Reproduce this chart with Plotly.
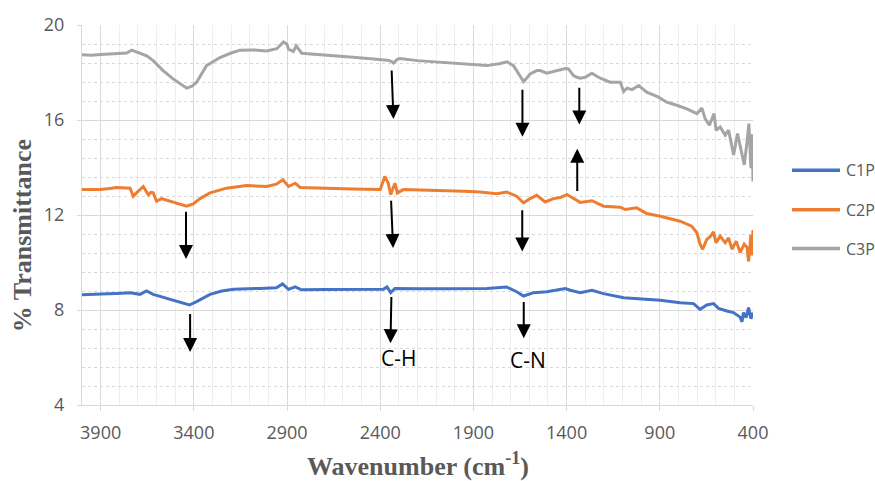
import plotly.graph_objects as go

# ---------------- spectra (wavenumber in cm^-1, % transmittance) ----------------
wn_c1 = [4000, 3950, 3903, 3860, 3815, 3742, 3689, 3654, 3618, 3546, 3474, 3424, 3385,
         3313, 3250, 3187, 3046, 2957, 2924, 2892, 2856, 2822, 2700, 2550, 2383, 2364,
         2344, 2321, 2200, 2043, 1900, 1828, 1722, 1668, 1631, 1577, 1506, 1407, 1380,
         1363, 1327, 1264, 1202, 1094, 1024, 897, 791, 719, 684, 648, 612, 585, 540,
         505, 469, 459, 451, 437, 424, 411, 400]
t_c1 = [8.64, 8.65, 8.65, 8.68, 8.70, 8.73, 8.66, 8.80, 8.66, 8.49, 8.31, 8.21, 8.35,
        8.66, 8.80, 8.87, 8.91, 8.94, 9.10, 8.87, 8.97, 8.85, 8.86, 8.87, 8.87, 8.97,
        8.73, 8.91, 8.89, 8.90, 8.91, 8.91, 8.97, 8.77, 8.59, 8.73, 8.77, 8.90, 8.83,
        8.80, 8.73, 8.83, 8.69, 8.52, 8.49, 8.41, 8.31, 8.27, 8.03, 8.21, 8.27, 8.07, 7.96,
        7.89, 7.70, 7.50, 7.89, 7.68, 8.10, 7.63, 7.89]

wn_c2 = [4000, 3950, 3903, 3850, 3814, 3742, 3725, 3712, 3699, 3671, 3644, 3630, 3618,
         3600, 3574, 3528, 3474, 3439, 3403, 3367, 3313, 3225, 3117, 3010, 2957, 2922,
         2892, 2856, 2830, 2700, 2550, 2400, 2375, 2357, 2344, 2321, 2308, 2276, 2150,
         2043, 1950, 1865, 1775, 1722, 1668, 1631, 1596, 1560, 1515, 1470, 1434, 1398,
         1363, 1327, 1264, 1202, 1112, 1085, 1024, 970, 897, 863, 791, 729, 701, 684,
         670, 648, 627, 612, 598, 576, 549, 531, 513, 490, 469, 447, 432, 424, 411, 405,
         400]
t_c2 = [13.07, 13.06, 13.07, 13.12, 13.16, 13.13, 12.79, 12.90, 12.99, 13.20, 12.85, 12.95,
        12.93, 12.58, 12.69, 12.58, 12.44, 12.37, 12.47, 12.69, 12.93, 13.13, 13.24, 13.20,
        13.30, 13.48, 13.20, 13.34, 13.16, 13.12, 13.10, 13.07, 13.62, 13.34, 12.86, 13.34,
        12.93, 13.07, 13.05, 13.03, 13.00, 12.97, 12.90, 12.97, 12.79, 12.51, 12.69, 12.83,
        12.55, 12.69, 12.74, 12.86, 12.69, 12.53, 12.60, 12.37, 12.33, 12.23, 12.30, 12.06,
        11.95, 11.88, 11.74, 11.53, 11.25, 10.77, 10.56, 10.97, 11.11, 11.29, 10.83, 11.11,
        10.83, 11.04, 10.56, 10.90, 10.42, 10.77, 10.63, 10.05, 11.16, 10.30, 11.37]

wn_c3 = [4000, 3950, 3900, 3850, 3800, 3760, 3733, 3700, 3653, 3618, 3565, 3511, 3470,
         3438, 3410, 3385, 3332, 3300, 3260, 3200, 3152, 3080, 3009, 2955, 2919, 2901,
         2892, 2866, 2851, 2821, 2700, 2579, 2450, 2364, 2340, 2329, 2310, 2295, 2200,
         2042, 1950, 1828, 1756, 1720, 1685, 1649, 1631, 1610, 1596, 1560, 1542, 1506,
         1470, 1452, 1407, 1390, 1363, 1345, 1327, 1300, 1264, 1240, 1219, 1166, 1112,
         1094, 1076, 1049, 1013, 990, 970, 907, 863, 809, 755, 701, 674, 657, 634, 609,
         598, 576, 549, 531, 504, 483, 465, 447, 432, 422, 411, 405, 400]
t_c3 = [18.75, 18.73, 18.76, 18.78, 18.80, 18.82, 18.94, 18.85, 18.70, 18.50, 18.08, 17.73,
        17.50, 17.34, 17.42, 17.59, 18.29, 18.45, 18.63, 18.82, 18.94, 18.95, 18.91, 19.00,
        19.29, 19.19, 18.98, 18.88, 19.12, 18.81, 18.72, 18.66, 18.58, 18.52, 18.47, 18.40,
        18.55, 18.59, 18.50, 18.40, 18.35, 18.29, 18.38, 18.45, 18.29, 17.87, 17.62, 17.80,
        17.94, 18.08, 18.08, 17.97, 18.05, 18.08, 18.17, 18.15, 17.87, 17.80, 17.76, 17.80,
        17.97, 17.85, 17.76, 17.59, 17.59, 17.20, 17.34, 17.28, 17.45, 17.30, 17.17, 16.96,
        16.75, 16.62, 16.47, 16.27, 16.50, 16.06, 15.78, 16.27, 15.57, 15.71, 15.36, 15.57,
        14.53, 15.43, 14.80, 14.11, 15.08, 15.85, 13.97, 15.40, 13.41]

series_names = ["C1P", "C2P", "C3P"]
series_colors = ["#4472C4", "#ED7D31", "#A5A5A5"]

x_ticks = [3900, 3400, 2900, 2400, 1900, 1400, 900, 400]
y_ticks = [4, 8, 12, 16, 20]

# band markers: (tail wavenumber, tail %T, head wavenumber, head %T)
band_arrows = [
    (3442, 12.20, 3442, 10.15),
    (3420, 7.90, 3420, 6.23),
    (2339, 18.15, 2329, 16.04),
    (2342, 12.66, 2331, 10.61),
    (2340, 8.61, 2345, 6.60),
    (1637, 17.34, 1637, 15.29),
    (1638, 12.26, 1638, 10.46),
    (1630, 8.40, 1630, 6.81),
    (1332, 17.42, 1332, 15.81),
    (1343, 12.95, 1343, 14.79),
]
band_labels = [("C-H", 2301, 5.98), ("C-N", 1609, 5.89)]

GRID = "#d9d9d9"
TXT = "#595959"
TICK_FONT = dict(family="Open Sans", size=18, color=TXT)
TITLE_FONT = dict(family="Liberation Serif", size=26, color=TXT)

fig = go.Figure()
for wn, tv, name, col in zip([wn_c1, wn_c2, wn_c3], [t_c1, t_c2, t_c3],
                             series_names, series_colors):
    fig.add_trace(go.Scatter(x=wn, y=tv, name=name, mode="lines",
                             line=dict(color=col, width=3), showlegend=False))

annotations = []
for x0, y0, x1, y1 in band_arrows:
    annotations.append(dict(
        x=x1, y=y1, ax=x0, ay=y0, xref="x", yref="y", axref="x", ayref="y",
        text="", showarrow=True, arrowhead=2, arrowsize=1.4, arrowwidth=2,
        arrowcolor="black", standoff=0, startstandoff=0))
for txt, bx, by in band_labels:
    annotations.append(dict(
        x=bx, y=by, xref="x", yref="y", text=txt, showarrow=False,
        font=dict(family="Open Sans", size=21, color="black"),
        xanchor="center", yanchor="middle"))

# axis titles
annotations.append(dict(
    x=0.5, y=-0.157, xref="paper", yref="paper",
    text="<b>Wavenumber (cm<sup>-1</sup>)</b>", showarrow=False,
    font=TITLE_FONT, xanchor="center", yanchor="middle"))
annotations.append(dict(
    x=-0.0894, y=0.444, xref="paper", yref="paper",
    text="<b>% Transmittance</b>", showarrow=False, textangle=-90,
    font=TITLE_FONT, xanchor="center", yanchor="middle"))

# legend on the right
shapes = []
legend_y = [0.618, 0.5136, 0.4117]
for name, col, ly in zip(series_names, series_colors, legend_y):
    shapes.append(dict(type="line", xref="paper", yref="paper",
                       x0=1.0581, x1=1.1297, y0=ly, y1=ly,
                       line=dict(color=col, width=3.5)))
    annotations.append(dict(
        x=1.1355, y=ly, xref="paper", yref="paper", text=name, showarrow=False,
        font=dict(family="Open Sans", size=16, color=TXT),
        xanchor="left", yanchor="middle"))

fig.update_layout(
    width=875, height=481,
    margin=dict(l=82, r=122, t=22, b=76),
    paper_bgcolor="white", plot_bgcolor="white",
    annotations=annotations, shapes=shapes,
    showlegend=False,
)
fig.update_xaxes(
    range=[4000, 400], tickvals=x_ticks, ticktext=[str(v) for v in x_ticks],
    showgrid=True, gridcolor=GRID, gridwidth=1,
    ticks="outside", ticklen=5, tickcolor=GRID, tickwidth=1,
    ticklabelstandoff=6,
    tickfont=TICK_FONT, zeroline=False,
    showline=True, linecolor=GRID, linewidth=1, mirror=False,
    minor=dict(dtick=100, tick0=400, showgrid=True, gridcolor="#eeeeee",
               gridwidth=1, ticks=""),
)
fig.update_yaxes(
    range=[4, 20], tickvals=y_ticks,
    showgrid=True, gridcolor=GRID, gridwidth=1,
    ticks="outside", ticklen=4, tickcolor=GRID, tickwidth=1,
    ticklabelstandoff=9,
    tickfont=TICK_FONT, zeroline=False,
    showline=True, linecolor=GRID, linewidth=1,
    minor=dict(dtick=0.8, tick0=4, showgrid=True, gridcolor=GRID,
               gridwidth=1, griddash="dot", ticks=""),
)

fig.write_html("out.html")
